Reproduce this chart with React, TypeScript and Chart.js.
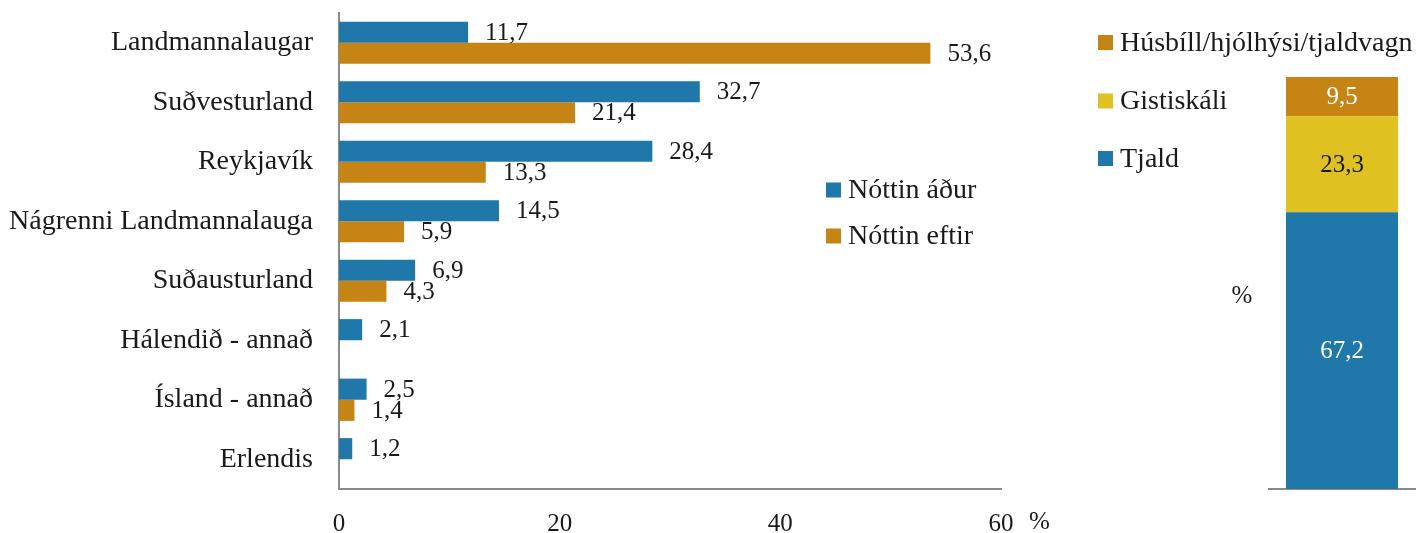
import React, { useEffect, useRef } from "react";
import { Chart, registerables } from "chart.js";

Chart.register(...registerables);

// ---- Data ----
const categories = [
  "Landmannalaugar",
  "Suðvesturland",
  "Reykjavík",
  "Nágrenni Landmannalauga",
  "Suðausturland",
  "Hálendið - annað",
  "Ísland - annað",
  "Erlendis",
];
const nightBefore: (number | null)[] = [11.7, 32.7, 28.4, 14.5, 6.9, 2.1, 2.5, 1.2];
const nightAfter: (number | null)[] = [53.6, 21.4, 13.3, 5.9, 4.3, null, 1.4, null];
const seriesLabels = ["Nóttin áður", "Nóttin eftir"];
const xTickValues = [0, 20, 40, 60];

const accommodationLabels = ["Tjald", "Gistiskáli", "Húsbíll/hjólhýsi/tjaldvagn"];
const tjaldValues = [67.2];
const gistiskaliValues = [23.3];
const husbillValues = [9.5];

// ---- Styles ----
const BLUE = "#1f77aa";
const ORANGE = "#c58413";
const YELLOW = "#dfc122";
const TEXT = "#1a1a1a";
const AXIS = "#8a8a8a";
const FAMILY = '"Liberation Serif", "Times New Roman", serif';

const fmt = (v: number) => v.toFixed(1).replace(".", ",");

export default function App() {
  const leftRef = useRef<HTMLCanvasElement>(null);
  const rightRef = useRef<HTMLCanvasElement>(null);

  useEffect(() => {
    const leftPlugin = {
      id: "leftLabels",
      afterDatasetsDraw(chart: any) {
        const ctx = chart.ctx;
        ctx.save();
        ctx.font = `25px ${FAMILY}`;
        ctx.fillStyle = TEXT;
        ctx.textBaseline = "middle";
        ctx.textAlign = "left";
        chart.data.datasets.forEach((ds: any, i: number) => {
          const meta = chart.getDatasetMeta(i);
          meta.data.forEach((bar: any, j: number) => {
            const v = ds.data[j];
            if (v == null) return;
            ctx.fillText(fmt(v), bar.x + 17, bar.y + 1);
          });
        });
        // percent sign after last tick
        const xs = chart.scales.x;
        ctx.fillText("%", xs.getPixelForValue(60) + 28, 522);
        // legend
        ctx.font = `28px ${FAMILY}`;
        const legendY = [190, 236];
        chart.data.datasets.forEach((ds: any, i: number) => {
          ctx.fillStyle = ds.backgroundColor;
          ctx.fillRect(826, legendY[i] - 7.5, 15, 15);
          ctx.fillStyle = TEXT;
          ctx.fillText(ds.label, 848, legendY[i] + 1);
        });
        ctx.restore();
      },
    };

    const left = new Chart(leftRef.current!, {
      type: "bar",
      data: {
        labels: categories,
        datasets: [
          { label: seriesLabels[0], data: nightBefore, backgroundColor: BLUE },
          { label: seriesLabels[1], data: nightAfter, backgroundColor: ORANGE },
        ],
      },
      options: {
        indexAxis: "y",
        responsive: false,
        animation: false,
        layout: { padding: { top: 13, right: 79, left: 0, bottom: 0 } },
        datasets: { bar: { categoryPercentage: 0.71, barPercentage: 1 } },
        plugins: { legend: { display: false }, tooltip: { enabled: false } },
        scales: {
          x: {
            type: "linear",
            min: 0,
            max: 60,
            afterBuildTicks(scale: any) {
              scale.ticks = xTickValues.map((v) => ({ value: v }));
            },
            ticks: { font: { family: FAMILY, size: 25 }, color: TEXT, padding: 20 },
            grid: { display: false, drawTicks: false },
            border: { display: true, color: AXIS, width: 2 },
            afterFit(scale: any) {
              scale.height = 44;
              scale.paddingLeft = 0;
              scale.paddingRight = 0;
            },
          },
          y: {
            ticks: { font: { family: FAMILY, size: 28 }, color: TEXT, padding: 26 },
            grid: { display: false, drawTicks: false },
            border: { display: true, color: AXIS, width: 2 },
            afterFit(scale: any) {
              scale.width = 339;
              scale.paddingTop = 0;
              scale.paddingBottom = 0;
            },
          },
        },
      } as any,
      plugins: [leftPlugin],
    });

    const rightPlugin = {
      id: "rightLabels",
      afterDatasetsDraw(chart: any) {
        const ctx = chart.ctx;
        ctx.save();
        ctx.textBaseline = "middle";
        ctx.textAlign = "center";
        ctx.font = `25px ${FAMILY}`;
        const labelColors = ["#ffffff", TEXT, "#ffffff"];
        chart.data.datasets.forEach((ds: any, i: number) => {
          const meta = chart.getDatasetMeta(i);
          meta.data.forEach((bar: any, j: number) => {
            const v = ds.data[j];
            if (v == null) return;
            ctx.fillStyle = labelColors[i];
            ctx.fillText(fmt(v), bar.x, (bar.y + bar.base) / 2 + 1);
          });
        });
        // percent sign
        ctx.fillStyle = TEXT;
        ctx.fillText("%", 162, 296);
        // legend (reversed order)
        ctx.textAlign = "left";
        ctx.font = `28px ${FAMILY}`;
        const legendY = [42.5, 101, 158.5];
        const order = [2, 1, 0];
        order.forEach((di, k) => {
          const ds = chart.data.datasets[di];
          ctx.fillStyle = ds.backgroundColor;
          ctx.fillRect(18, legendY[k] - 7.5, 15, 15);
          ctx.fillStyle = TEXT;
          ctx.fillText(ds.label, 40, legendY[k] + 1);
        });
        ctx.restore();
      },
    };

    const right = new Chart(rightRef.current!, {
      type: "bar",
      data: {
        labels: [""],
        datasets: [
          { label: accommodationLabels[0], data: tjaldValues, backgroundColor: BLUE },
          { label: accommodationLabels[1], data: gistiskaliValues, backgroundColor: YELLOW },
          { label: accommodationLabels[2], data: husbillValues, backgroundColor: ORANGE },
        ],
      },
      options: {
        responsive: false,
        animation: false,
        layout: { padding: { top: 77, bottom: 44, left: 189, right: 9 } },
        datasets: { bar: { categoryPercentage: 1, barPercentage: 0.767 } },
        plugins: { legend: { display: false }, tooltip: { enabled: false } },
        scales: {
          x: {
            stacked: true,
            ticks: { display: false },
            grid: { display: false, drawTicks: false },
            border: { display: true, color: AXIS, width: 2 },
            afterFit(scale: any) {
              scale.height = 0;
            },
          },
          y: {
            stacked: true,
            min: 0,
            max: 100,
            display: false,
          },
        },
      } as any,
      plugins: [rightPlugin],
    });

    return () => {
      left.destroy();
      right.destroy();
    };
  }, []);

  return (
    <div style={{ position: "absolute", left: 0, top: 0, width: 1424, height: 533, background: "#fff" }}>
      <canvas ref={leftRef} width={1080} height={533} style={{ position: "absolute", left: 0, top: 0 }} />
      <canvas ref={rightRef} width={344} height={533} style={{ position: "absolute", left: 1080, top: 0 }} />
    </div>
  );
}
